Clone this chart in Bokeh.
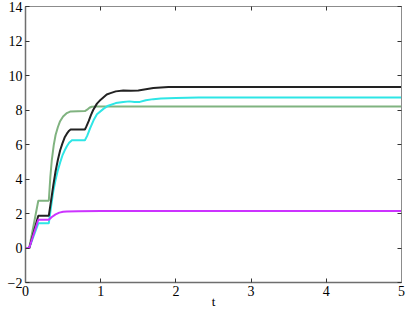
from bokeh.plotting import figure
from bokeh.models import Range1d, LinearAxis, FixedTicker
from bokeh.embed import file_html
from bokeh.resources import INLINE

# Series (t, value)
t_green = [0, 0.05, 0.17, 0.31, 0.33, 0.35, 0.375, 0.40, 0.43, 0.46, 0.50, 0.55, 0.60, 0.79, 0.82, 0.85, 0.88, 0.95, 5.0]
y_green = [0, 0.0, 2.74, 2.74, 4.1, 5.1, 5.95, 6.55, 7.0, 7.35, 7.62, 7.82, 7.92, 7.94, 8.02, 8.13, 8.19, 8.21, 8.21]

t_black = [0, 0.05, 0.17, 0.31, 0.34, 0.37, 0.40, 0.43, 0.46, 0.49, 0.52, 0.55, 0.58, 0.60, 0.79, 0.81, 0.84, 0.87, 0.90, 0.95, 1.0, 1.08, 1.13, 1.2, 1.3, 1.4, 1.5, 1.6, 1.7, 1.8, 1.9, 2.0, 5.0]
y_black = [0, 0.0, 1.87, 1.87, 2.75, 3.65, 4.45, 5.1, 5.65, 6.05, 6.4, 6.63, 6.8, 6.87, 6.87, 7.05, 7.35, 7.7, 8.0, 8.37, 8.6, 8.9, 8.98, 9.08, 9.13, 9.12, 9.13, 9.2, 9.27, 9.31, 9.33, 9.33, 9.33]

t_cyan = [0, 0.05, 0.17, 0.31, 0.34, 0.37, 0.40, 0.43, 0.46, 0.49, 0.52, 0.55, 0.58, 0.61, 0.62, 0.79, 0.82, 0.86, 0.905, 0.95, 1.04, 1.1, 1.2, 1.3, 1.38, 1.45, 1.52, 1.6, 1.7, 1.8, 2.0, 2.3, 5.0]
y_cyan = [0, 0.0, 1.43, 1.43, 2.4, 3.3, 3.95, 4.5, 4.95, 5.35, 5.65, 5.9, 6.1, 6.22, 6.25, 6.25, 6.5, 6.95, 7.4, 7.75, 8.08, 8.25, 8.4, 8.47, 8.5, 8.47, 8.47, 8.57, 8.63, 8.67, 8.7, 8.72, 8.72]

t_magenta = [0, 0.05, 0.17, 0.31, 0.35, 0.40, 0.45, 0.50, 0.55, 0.70, 1.0, 5.0]
y_magenta = [0, 0.0, 1.64, 1.64, 1.8, 1.95, 2.05, 2.1, 2.12, 2.13, 2.14, 2.14]

x_ticks = [0, 1, 2, 3, 4, 5]
y_ticks = [-2, 0, 2, 4, 6, 8, 10, 12, 14]
x_label = "t"

FONT = "Liberation Serif"

p = figure(width=411, height=311, output_backend="svg", toolbar_location=None,
           x_range=Range1d(0, 5), y_range=Range1d(-2, 14),
           min_border_left=25, min_border_right=10, min_border_top=6, min_border_bottom=28)
p.grid.visible = False
p.outline_line_color = None
p.background_fill_color = "white"
p.border_fill_color = "white"

series = [
    (t_green, y_green, "#80b380"),
    (t_cyan, y_cyan, "#2ee6e6"),
    (t_black, y_black, "#222222"),
    (t_magenta, y_magenta, "#cc33ff"),
]
for tx, ty, c in series:
    p.line(tx, ty, line_color=c, line_width=2)

for ax in (p.xaxis[0], p.yaxis[0]):
    ax.major_tick_in = 4
    ax.major_tick_out = 0
    ax.minor_tick_line_color = None
    ax.axis_line_color = "#6e6e6e"
    ax.axis_line_width = 1.5
    ax.major_tick_line_color = "#333333"
    ax.major_label_text_font = FONT
    ax.major_label_text_font_size = "14px"
    ax.major_label_text_color = "black"
    ax.major_label_standoff = 3

p.xaxis[0].ticker = FixedTicker(ticks=x_ticks)
p.yaxis[0].ticker = FixedTicker(ticks=y_ticks)
p.xaxis[0].axis_label = x_label
p.xaxis[0].axis_label_text_font = FONT
p.xaxis[0].axis_label_text_font_size = "13px"
p.xaxis[0].axis_label_text_font_style = "normal"
p.xaxis[0].axis_label_text_color = "black"
p.xaxis[0].axis_label_standoff = -5

top = LinearAxis(ticker=FixedTicker(ticks=x_ticks), major_label_text_font_size="1px",
                 major_label_text_color=None,
                 major_label_standoff=0, major_tick_in=4, major_tick_out=0,
                 minor_tick_line_color=None, axis_line_color="#8c8c8c",
                 major_tick_line_color="#333333")
right = LinearAxis(ticker=FixedTicker(ticks=y_ticks), major_label_text_font_size="1px",
                   major_label_text_color=None,
                   major_label_standoff=0, major_tick_in=4, major_tick_out=0,
                   minor_tick_line_color=None, axis_line_color="#8c8c8c",
                   major_tick_line_color="#333333")
p.add_layout(top, "above")
p.add_layout(right, "right")

open("out.html", "w").write(file_html(p, INLINE))
